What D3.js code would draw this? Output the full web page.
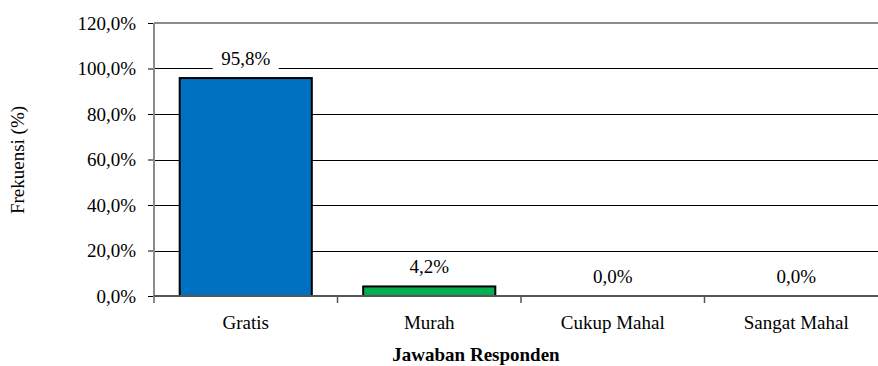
<!DOCTYPE html>
<html>
<head>
<meta charset="utf-8">
<script src="https://cdn.jsdelivr.net/npm/d3@7"></script>
<style>
  html, body { margin: 0; padding: 0; background: #fff; }
  svg { display: block; }
  text { font-family: "Liberation Serif", "Times New Roman", serif; fill: #000; }
</style>
</head>
<body>
<svg id="chart" width="878" height="366"></svg>
<script>
// Survey answers and their share of respondents (%)
const categories = ["Gratis", "Murah", "Cukup Mahal", "Sangat Mahal"];
const values = [95.8, 4.2, 0.0, 0.0];
const barColors = ["#0070C0", "#00B050", "#0070C0", "#0070C0"];
const yTicks = [0, 20, 40, 60, 80, 100, 120];
const xTitle = "Jawaban Responden";
const yTitle = "Frekuensi (%)";

const fmt = v => v.toFixed(1).replace(".", ",") + "%";

const svg = d3.select("#chart");
const plotLeft = 154, plotRight = 888, plotTop = 23, plotBottom = 296;

const x = d3.scaleBand().domain(categories).range([plotLeft, plotRight]).paddingInner(0.28).paddingOuter(0.14);
const xOuter = d3.scaleBand().domain(categories).range([plotLeft, plotRight]);
const y = d3.scaleLinear().domain([0, 120]).range([plotBottom, plotTop]);

// Horizontal gridlines
svg.append("g").selectAll("line")
  .data(yTicks.filter(t => t > 0 && t < 120))
  .join("line")
  .attr("x1", plotLeft).attr("x2", plotRight)
  .attr("y1", d => Math.round(y(d)) + 0.5).attr("y2", d => Math.round(y(d)) + 0.5)
  .attr("stroke", "#000").attr("stroke-width", 1);

// Top border line
svg.append("line")
  .attr("x1", plotLeft).attr("x2", plotRight)
  .attr("y1", y(120)).attr("y2", y(120))
  .attr("stroke", "#8c8c8c").attr("stroke-width", 2);

// Y axis with ticks and labels
const yAxis = d3.axisLeft(y).tickValues(yTicks).tickFormat(fmt).tickSize(6).tickPadding(12);
const gy = svg.append("g").attr("transform", `translate(${plotLeft},0)`).call(yAxis);
gy.select(".domain").remove();
gy.selectAll(".tick line").attr("stroke", "#000");
gy.selectAll(".tick text").attr("font-size", 19).attr("font-family", "Liberation Serif, serif");
svg.append("line")
  .attr("x1", plotLeft).attr("x2", plotLeft).attr("y1", plotTop).attr("y2", plotBottom + 7)
  .attr("stroke", "#8c8c8c").attr("stroke-width", 2);

// Bars
svg.append("g").selectAll("rect")
  .data(categories.map((c, i) => ({ c, v: values[i], color: barColors[i] })).filter(d => d.v > 0))
  .join("rect")
  .attr("x", d => x(d.c))
  .attr("y", d => y(d.v))
  .attr("width", x.bandwidth())
  .attr("height", d => y(0) - y(d.v))
  .attr("fill", d => d.color)
  .attr("stroke", "#000").attr("stroke-width", 2);

// X axis baseline and category boundary ticks
svg.append("line")
  .attr("x1", plotLeft).attr("x2", plotRight).attr("y1", plotBottom).attr("y2", plotBottom)
  .attr("stroke", "#555").attr("stroke-width", 2);
svg.append("g").selectAll("line")
  .data(categories.slice(1))
  .join("line")
  .attr("x1", d => xOuter(d)).attr("x2", d => xOuter(d))
  .attr("y1", plotBottom).attr("y2", plotBottom + 7)
  .attr("stroke", "#555").attr("stroke-width", 1.5);

// Category labels
svg.append("g").selectAll("text")
  .data(categories)
  .join("text")
  .attr("x", d => xOuter(d) + xOuter.bandwidth() / 2)
  .attr("y", plotBottom + 33)
  .attr("text-anchor", "middle")
  .attr("font-size", 19)
  .text(d => d);

// Value labels with white backing
const labels = svg.append("g").selectAll("g")
  .data(categories.map((c, i) => ({ c, v: values[i] })))
  .join("g")
  .attr("transform", d => `translate(${x(d.c) + x.bandwidth() / 2},${y(d.v) - 20})`);
labels.append("rect")
  .attr("x", -33).attr("y", -12).attr("width", 66).attr("height", 24)
  .attr("fill", "#fff");
labels.append("text")
  .attr("text-anchor", "middle")
  .attr("dy", "0.35em")
  .attr("font-size", 19)
  .text(d => fmt(d.v));

// Axis titles
svg.append("text")
  .attr("x", 476).attr("y", 361)
  .attr("text-anchor", "middle")
  .attr("font-size", 19).attr("font-weight", "bold")
  .text(xTitle);
svg.append("text")
  .attr("transform", "translate(24,160) rotate(-90)")
  .attr("text-anchor", "middle")
  .attr("font-size", 19)
  .text(yTitle);
</script>
</body>
</html>
